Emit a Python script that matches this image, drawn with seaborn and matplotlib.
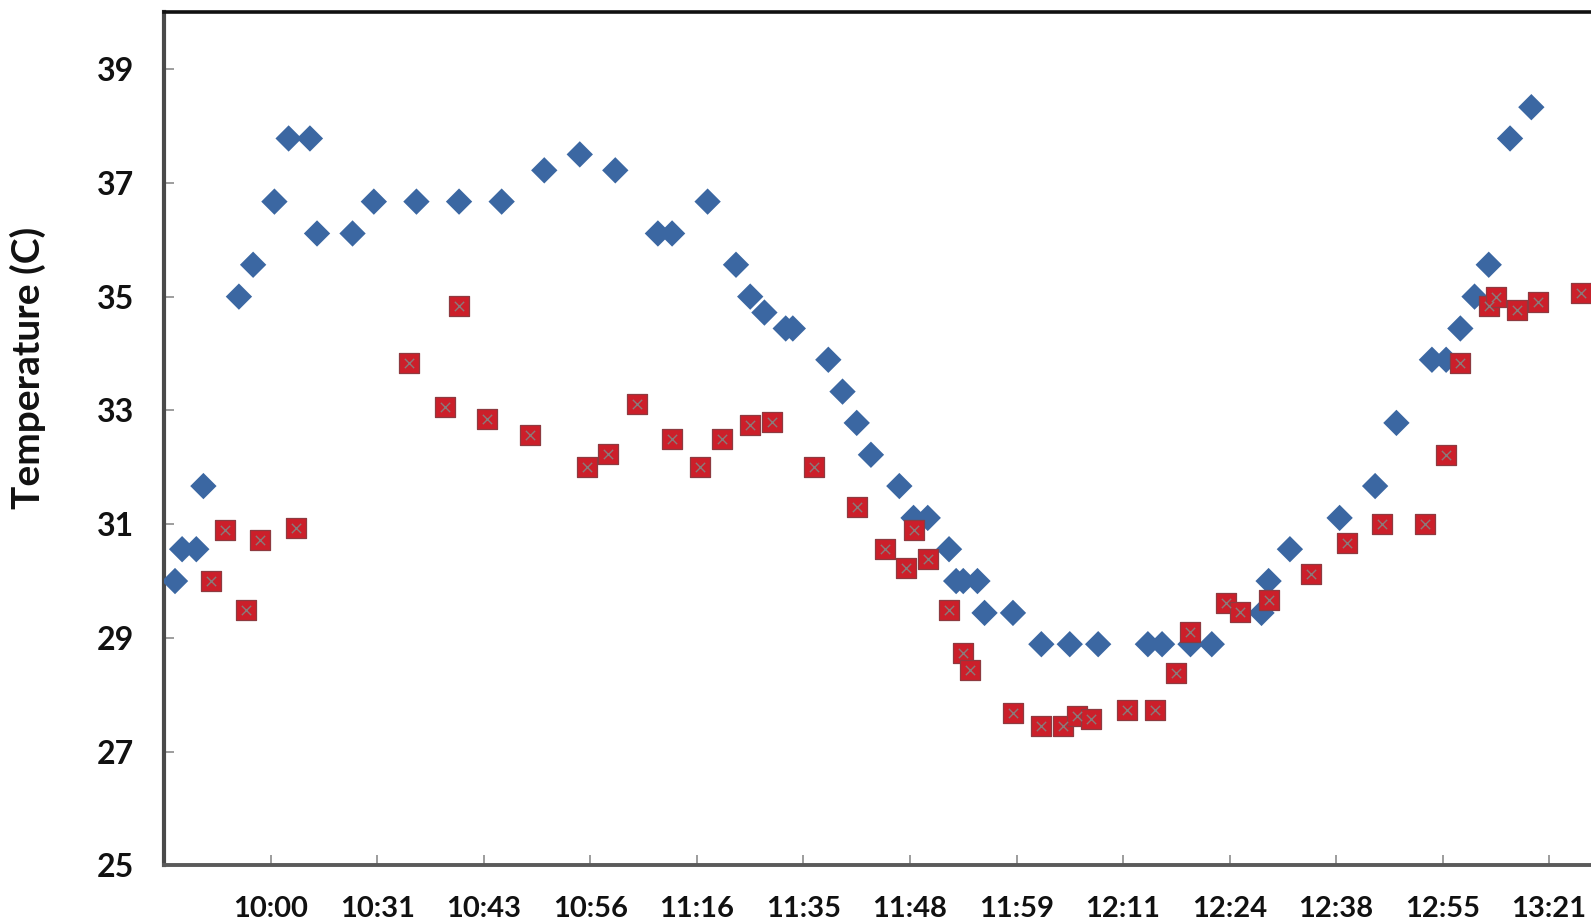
import matplotlib
matplotlib.use("Agg")
import matplotlib.pyplot as plt
import seaborn as sns

# Sample slot (one slot per logged reading) and temperature in degrees C
blue_idx = [1, 2, 4, 5, 10, 12, 15, 17, 20, 21, 26, 29, 35, 41, 47, 53, 58, 63,
            69, 71, 76, 80, 82, 84, 87, 88, 93, 95, 97, 99, 103, 105, 107, 110,
            111, 112, 114, 115, 119, 123, 127, 131, 138, 140, 144, 147, 154, 155,
            158, 165, 170, 173, 178, 180, 182, 184, 186, 189, 192]
blue_temp = [30.0, 30.56, 30.56, 31.67, 35.0, 35.56, 36.67, 37.78, 37.78, 36.11,
             36.11, 36.67, 36.67, 36.67, 36.67, 37.22, 37.5, 37.22, 36.11, 36.11,
             36.67, 35.56, 35.0, 34.72, 34.44, 34.44, 33.89, 33.33, 32.78, 32.22,
             31.67, 31.11, 31.11, 30.56, 30.0, 30.0, 30.0, 29.44, 29.44, 28.89,
             28.89, 28.89, 28.89, 28.89, 28.89, 28.89, 29.44, 30.0, 30.56, 31.11,
             31.67, 32.78, 33.89, 33.89, 34.44, 35.0, 35.56, 37.78, 38.33]

red_idx = [6, 8, 11, 13, 18, 34, 39, 41, 45, 51, 59, 62, 66, 71, 75, 78, 82, 85,
           91, 97, 101, 104, 105, 107, 110, 112, 113, 119, 123, 126, 128, 130,
           135, 139, 142, 144, 149, 151, 155, 161, 166, 171, 177, 180, 182, 186,
           187, 190, 193, 199]
red_temp = [30.0, 30.89, 29.5, 30.72, 30.94, 33.83, 33.06, 34.84, 32.85, 32.56,
            32.0, 32.24, 33.11, 32.5, 32.0, 32.5, 32.74, 32.79, 32.0, 31.3, 30.56,
            30.23, 30.9, 30.39, 29.5, 28.73, 28.44, 27.68, 27.46, 27.46, 27.62,
            27.57, 27.73, 27.73, 28.39, 29.1, 29.62, 29.46, 29.67, 30.12, 30.67,
            31.0, 31.0, 32.22, 33.83, 34.84, 35.0, 34.77, 34.9, 35.06]

time_labels = ["10:00", "10:31", "10:43", "10:56", "11:16", "11:35", "11:48",
               "11:59", "12:11", "12:24", "12:38", "12:55", "13:21"]
label_every = 15
y_ticks = [25, 27, 29, 31, 33, 35, 37, 39]

sns.set_theme(style="white")
plt.rcParams["font.family"] = ["Lato", "DejaVu Sans"]
plt.rcParams["font.weight"] = "bold"

fig = plt.figure(figsize=(15.91, 9.23), dpi=100)
ax = fig.add_axes([0.1033, 0.0623, 0.8967, 0.9245])

# each reading sits in the middle of its category slot
blue_x = [i + 0.5 for i in blue_idx]
red_x = [i + 0.5 for i in red_idx]

sns.scatterplot(x=blue_x, y=blue_temp, marker="D", s=180, color="#3b67a2",
                edgecolor="none", ax=ax, zorder=3)
sns.scatterplot(x=red_x, y=red_temp, marker="s", s=225, color="#cc1f2a",
                edgecolor="#8e3a40", linewidth=0.9, ax=ax, zorder=4)
sns.scatterplot(x=red_x, y=red_temp, marker="x", s=45, color="#8a7a7a",
                linewidth=1.0, ax=ax, zorder=5)

ax.set_xlim(0, 200.9)
ax.set_ylim(25, 40)

tick_pos = [label_every * (i + 1) for i in range(len(time_labels))]
ax.set_xticks(tick_pos)
ax.set_xticklabels(time_labels, fontsize=21, fontweight="bold")
ax.set_yticks(y_ticks)
ax.set_yticklabels([str(v) for v in y_ticks], fontsize=23, fontweight="bold")

ax.tick_params(axis="x", direction="in", length=7, width=1.2, color="#8c8c8c",
               pad=22, bottom=True, labelcolor="#111111")
ax.tick_params(axis="y", direction="in", length=7, width=1.2, color="#8c8c8c",
               pad=22, left=True, labelcolor="#111111")

ax.set_ylabel("Temperature (C)", fontsize=28, fontweight="bold", color="#111111")
ax.yaxis.set_label_coords(-0.083, 0.583)
ax.set_xlabel("")

ax.spines["top"].set_color("#111111")
ax.spines["top"].set_linewidth(2.6)
ax.spines["left"].set_color("#4a4a4a")
ax.spines["left"].set_linewidth(3.0)
ax.spines["bottom"].set_color("#5a5a5a")
ax.spines["bottom"].set_linewidth(2.8)
ax.spines["right"].set_visible(False)

fig.savefig("out.png", dpi=100, facecolor="white")
